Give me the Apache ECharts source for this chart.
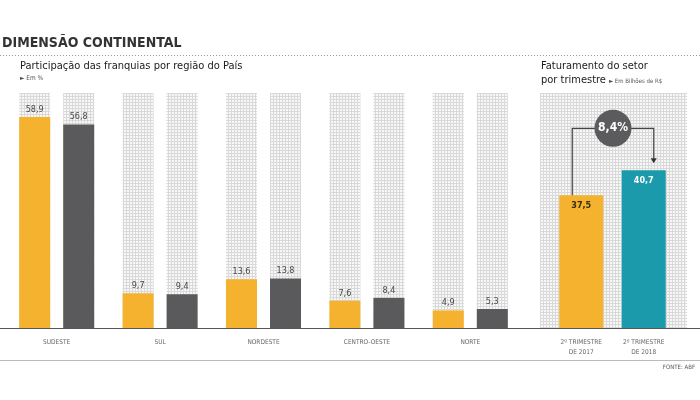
<!DOCTYPE html>
<html><head><meta charset="utf-8">
<script src="https://cdn.jsdelivr.net/npm/echarts@6/dist/echarts.min.js"></script>
<style>html,body{margin:0;padding:0;background:#fff}#c{width:700px;height:400px}</style>
</head><body><div id="c"></div>
<script>
// ---- data ----
const regions = ['SUDESTE', 'SUL', 'NORDESTE', 'CENTRO-OESTE', 'NORTE'];
const share2017 = [58.9, 9.7, 13.6, 7.6, 4.9];
const share2018 = [56.8, 9.4, 13.8, 8.4, 5.3];
const quarters = ['2º TRIMESTRE\nDE 2017', '2º TRIMESTRE\nDE 2018'];
const revenue = [37.5, 40.7];
const growthLabel = '8,4%';

// ---- styles ----
const FONT = '"Liberation Sans Narrow", "DejaVu Sans Condensed", Arial, sans-serif';
const YELLOW = '#F4B22E', GRAY = '#5A5A5C', TEAL = '#1A9AAA';
function makePattern() {
  const c = document.createElement('canvas'); c.width = 3; c.height = 3;
  const g = c.getContext('2d');
  g.fillStyle = '#f7f7f7'; g.fillRect(0, 0, 3, 3);
  g.fillStyle = '#d9d9d9'; g.fillRect(0, 0, 3, 1); g.fillRect(0, 0, 1, 3);
  return c;
}
const pat = { image: makePattern(), repeat: 'repeat' };
const fmt = p => p.value.toFixed(1).replace('.', ',');

const chart = echarts.init(document.getElementById('c'), null, { renderer: 'canvas' });
chart.setOption({
  animation: false,
  backgroundColor: '#fff',
  textStyle: { fontFamily: FONT },
  grid: [
    { left: 5, top: 93, width: 517, height: 235 },
    { left: 550, top: 93, width: 125, height: 235 }
  ],
  xAxis: [
    { type: 'category', gridIndex: 0, data: regions, axisLine: { show: false }, axisTick: { show: false },
      axisLabel: { fontSize: 6.5, color: '#666', margin: 11, fontFamily: FONT } },
    { type: 'category', gridIndex: 1, data: quarters, axisLine: { show: false }, axisTick: { show: false },
      axisLabel: { fontSize: 6.5, color: '#666', margin: 9, lineHeight: 10, fontFamily: FONT } }
  ],
  yAxis: [
    { type: 'value', gridIndex: 0, min: 0, max: 65.6, show: false },
    { type: 'value', gridIndex: 1, min: 20.5, max: 50.6, show: false }
  ],
  series: [
    { type: 'bar', name: '2017', xAxisIndex: 0, yAxisIndex: 0, data: share2017, barWidth: 31, barGap: '42%',
      itemStyle: { color: YELLOW }, showBackground: true, backgroundStyle: { color: pat },
      label: { show: true, position: 'top', distance: 3, fontSize: 9, color: '#4a4a4a', formatter: fmt, fontFamily: FONT } },
    { type: 'bar', name: '2018', xAxisIndex: 0, yAxisIndex: 0, data: share2018, barWidth: 31, barGap: '42%',
      itemStyle: { color: GRAY }, showBackground: true, backgroundStyle: { color: pat },
      label: { show: true, position: 'top', distance: 3, fontSize: 9, color: '#4a4a4a', formatter: fmt, fontFamily: FONT } },
    { type: 'bar', name: 'Faturamento', xAxisIndex: 1, yAxisIndex: 1, barWidth: 44, z: 5,
      data: [
        { value: revenue[0], itemStyle: { color: YELLOW }, label: { color: '#3a2e10' } },
        { value: revenue[1], itemStyle: { color: TEAL }, label: { color: '#fff' } }
      ],
      label: { show: true, position: 'insideTop', distance: 6, fontSize: 9, fontWeight: 'bold', formatter: fmt, fontFamily: FONT } }
  ],
  graphic: [
    { id: 'title', type: 'text', left: 2, top: 36, z: 10,
      style: { text: 'DIMENSÃO CONTINENTAL', font: 'bold 14px ' + FONT, fill: '#333' } },
    { id: 'dots', type: 'line', z: 10, shape: { x1: 0, y1: 55.5, x2: 700, y2: 55.5 },
      style: { stroke: '#999', lineWidth: 1, lineDash: [1, 2] } },
    { id: 'sub1', type: 'text', left: 20, top: 61, z: 10,
      style: { text: 'Participação das franquias por região do País', font: '11px ' + FONT, fill: '#1a1a1a' } },
    { id: 'unit1', type: 'text', left: 20, top: 75, z: 10,
      style: { text: '► Em %', font: '6.5px ' + FONT, fill: '#555' } },
    { id: 'sub2a', type: 'text', left: 541, top: 61, z: 10,
      style: { text: 'Faturamento do setor', font: '11px ' + FONT, fill: '#1a1a1a' } },
    { id: 'sub2b', type: 'text', left: 541, top: 75, z: 10,
      style: { text: 'por trimestre', font: '11px ' + FONT, fill: '#1a1a1a' } },
    { id: 'unit2', type: 'text', left: 609, top: 78, z: 10,
      style: { text: '► Em Bilhões de R$', font: '6px ' + FONT, fill: '#555' } },
    { id: 'bgR', type: 'rect', z: -10, shape: { x: 540, y: 93, width: 147, height: 235 },
      style: { fill: pat } },
    { id: 'base', type: 'line', z: 10, shape: { x1: 0, y1: 328.5, x2: 700, y2: 328.5 },
      style: { stroke: '#555', lineWidth: 1 } },
    { id: 'foot', type: 'line', z: 10, shape: { x1: 0, y1: 360.5, x2: 700, y2: 360.5 },
      style: { stroke: '#bbb', lineWidth: 1 } },
    { id: 'src', type: 'text', right: 5, top: 364, z: 10,
      style: { text: 'FONTE: ABF', font: '6px ' + FONT, fill: '#555' } }
  ]
});

// annotation anchored to the revenue bars
const pA = chart.convertToPixel({ xAxisIndex: 1, yAxisIndex: 1 }, [0, revenue[0]]);
const pB = chart.convertToPixel({ xAxisIndex: 1, yAxisIndex: 1 }, [1, revenue[1]]);
const x1 = pA[0] - 9, x2 = pB[0] + 10, yH = pB[1] - 42, tip = pB[1] - 7;
const cx = (x1 + x2) / 2;
chart.setOption({
  graphic: [
    { id: 'conn', type: 'polyline', z: 20,
      shape: { points: [[x1, pA[1]], [x1, yH], [x2, yH], [x2, tip - 4]] },
      style: { stroke: '#444', lineWidth: 1.2, fill: null } },
    { id: 'arrow', type: 'polygon', z: 20,
      shape: { points: [[x2 - 3, tip - 5], [x2 + 3, tip - 5], [x2, tip]] },
      style: { fill: '#333' } },
    { id: 'circ', type: 'circle', z: 21, shape: { cx: cx, cy: yH, r: 18.5 },
      style: { fill: '#5B5B5D' } },
    { id: 'growth', type: 'text', z: 22, x: cx, y: yH,
      style: { text: growthLabel, font: 'bold 12px ' + FONT, fill: '#fff', align: 'center', verticalAlign: 'middle' } }
  ]
});
</script></body></html>
